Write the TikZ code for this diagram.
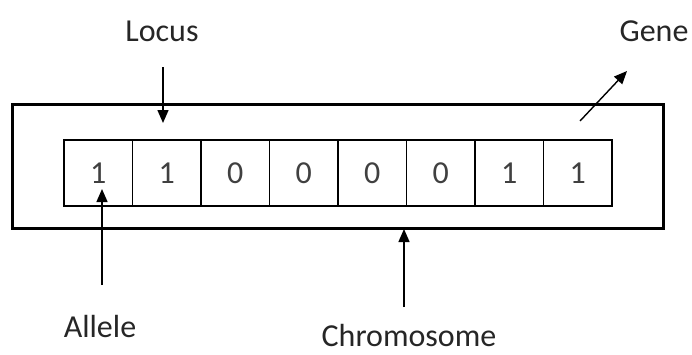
\documentclass[tikz,border=0pt]{standalone}
\usepackage{fontspec}
\setmainfont{Carlito}
\usetikzlibrary{arrows.meta}
\begin{document}
\begin{tikzpicture}[x=1pt,y=-1pt,
  lbl/.style={font=\fontsize{32}{34}\selectfont, text=black!85, inner sep=0pt},
  cell/.style={draw, line width=1.3pt, minimum width=68.5pt, minimum height=66pt,
    inner sep=0pt, outer sep=0pt, font=\fontsize{32}{34}\selectfont, text=black!75},
  pointer/.style={line width=1.4pt, -{Triangle[length=13pt,width=11pt]}}]
\useasboundingbox (0,0) rectangle (692,354);
% chromosome frame
\node[draw, line width=3pt, minimum width=651pt, minimum height=124pt, inner sep=0pt]
  (chrom) at (337.5,166) {};
% gene cells
\foreach \v [count=\i] in {1,1,0,0,0,0,1,1} {
  \node[cell] (c\i) at ({64+68.5*(\i-0.5)},173) {\v};
}
% labels
\node[lbl] (locus) at (162,31) {Locus};
\node[lbl] (gene) at (654,31) {Gene};
\node[lbl] (allele) at (100,326) {Allele};
\node[lbl] (chromlbl) at (409,335) {Chromosome};
% arrow end points
\coordinate (locusA) at (163,67);
\coordinate (locusB) at (163,123);
\coordinate (geneA) at (580,121);
\coordinate (geneB) at (627,71);
\coordinate (alleleA) at (102,285);
\coordinate (alleleB) at (102,189);
\coordinate (chromA) at (404,307);
\coordinate (chromB) at (404,229);
\draw[pointer] (locusA) -- (locusB);
\draw[pointer] (geneA) -- (geneB);
\draw[pointer] (alleleA) -- (alleleB);
\draw[pointer] (chromA) -- (chromB);
\end{tikzpicture}
\end{document}
